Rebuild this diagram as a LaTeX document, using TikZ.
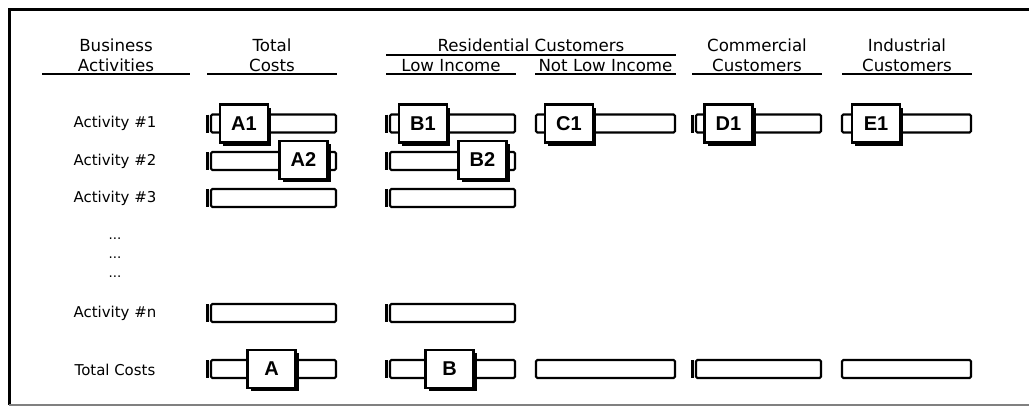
\documentclass[tikz,border=0pt]{standalone}
\usepackage{fontspec}
\setmainfont{DejaVu Sans}
\newfontfamily\boxfont{Liberation Sans}
\usetikzlibrary{shadows}
\tikzset{
  hdr/.style={font=\fontsize{12.5}{15}\selectfont, align=center, anchor=south, inner sep=0pt},
  rule/.style={line width=2.2pt},
  rowlab/.style={font=\fontsize{11.2}{13}\selectfont, inner sep=0pt},
  bar/.style={draw, line width=1.6pt, rounded corners=1pt, minimum height=13.5pt,
              inner sep=0pt, outer sep=0pt, anchor=west},
  tick/.style={line width=1.6pt},
  cell/.style={draw, fill=white, line width=1.6pt, minimum width=36pt, minimum height=28.5pt,
               inner sep=0pt, outer sep=0pt, font=\boxfont\bfseries\fontsize{15}{16}\selectfont,
               drop shadow={shadow xshift=2.4pt, shadow yshift=-2.4pt, fill=black, opacity=1}},
}
\begin{document}
\begin{tikzpicture}[x=0.75pt, y=-0.75pt]
  \useasboundingbox (0,0) rectangle (1029,407);
  % frame
  \draw[line width=2.25pt] (9,405) -- (9,9) -- (1029,9);
  \draw[gray, line width=0.8pt] (9,405) -- (1029,405);

  % column heads
  \node[hdr] (hBus) at (116,72) {Business\\Activities};
  \node[hdr] (hTot) at (272,72) {Total\\Costs};
  \node[hdr] (hRes) at (531,52) {Residential Customers};
  \node[hdr] (hLow) at (451,72) {Low Income};
  \node[hdr] (hNot) at (605.5,72) {Not Low Income};
  \node[hdr] (hCom) at (757,72) {Commercial\\Customers};
  \node[hdr] (hInd) at (907,72) {Industrial\\Customers};
  \draw[rule] (386,55) -- (676,55);
  \foreach \l/\r in {42/190, 207/337, 386/516, 535/676, 692/822, 842/972}
    \draw[rule] (\l,74) -- (\r,74);

  % row labels
  \foreach \n/\y/\s in {1/123.5/{Activity \#1}, 2/161/{Activity \#2}, 3/198/{Activity \#3},
                        n/313/{Activity \#n}, t/370/{Total Costs}}
    \node[rowlab] (lab-\n) at (115,\y) {\s};
  \foreach \d/\y in {1/238.5, 2/257.5, 3/276.5}
    \node[font=\fontsize{10}{12}\selectfont, inner sep=0pt] (dots-\d) at (115,\y) {...};

  % bars
  \foreach \c/\l/\r in {tot/207/337, low/386/516}
    \foreach \n/\y in {1/123.5, 2/161, 3/198, n/313, t/369} {
      \node[bar, minimum width={(\r-\l-5)*0.75pt}] (bar-\c-\n) at (\l+4,\y) {};
      \draw[tick] ([xshift=-2.6pt]bar-\c-\n.north west) -- ([xshift=-2.6pt]bar-\c-\n.south west);
    }
  \foreach \n/\y in {1/123.5, t/369} {
    \node[bar, minimum width={(822-692-5)*0.75pt}] (bar-com-\n) at (696,\y) {};
    \draw[tick] ([xshift=-2.6pt]bar-com-\n.north west) -- ([xshift=-2.6pt]bar-com-\n.south west);
    \node[bar, minimum width={(676-535-2)*0.75pt}] (bar-not-\n) at (536,\y) {};
    \node[bar, minimum width={(972-841-2)*0.75pt}] (bar-ind-\n) at (842,\y) {};
  }

  % cost boxes
  \foreach \b/\x/\y in {A1/244/123.5, A2/303.5/160, A/271.5/369,
                        B1/423/123.5, B2/482.5/160, B/449.5/369,
                        C1/569/123.5, D1/728.5/123.5, E1/876/123.5}
    \node[cell] (\b) at (\x,\y) {\b};
\end{tikzpicture}
\end{document}
